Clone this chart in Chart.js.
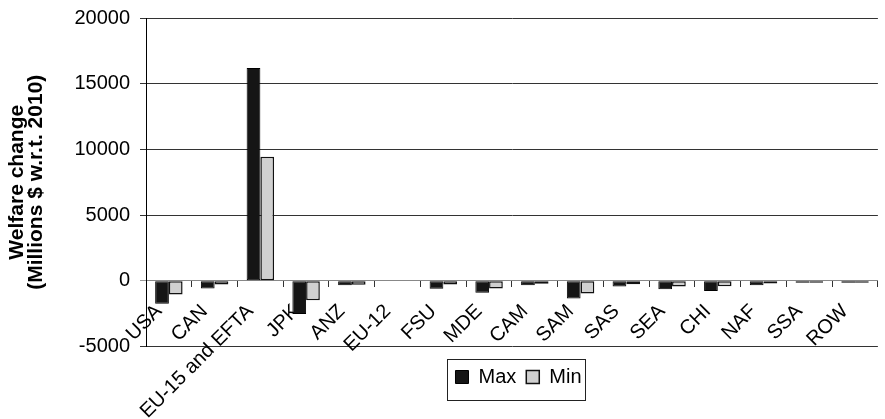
<!DOCTYPE html>
<html>
<head>
<meta charset="utf-8">
<script src="https://cdn.jsdelivr.net/npm/chart.js@4"></script>
<style>
  html, body { margin: 0; padding: 0; background: #fff; }
  #wrap { width: 885px; height: 419px; position: relative; }
</style>
</head>
<body>
<div id="wrap"><canvas id="welfareChart"></canvas></div>
<script>
// Regions and welfare changes (millions $ w.r.t. 2010)
const regions = ['USA', 'CAN', 'EU-15 and EFTA', 'JPK', 'ANZ', 'EU-12', 'FSU', 'MDE',
                 'CAM', 'SAM', 'SAS', 'SEA', 'CHI', 'NAF', 'SSA', 'ROW'];
const maxValues = [-1750, -590, 16200, -2530, -330, 0, -610, -900, -330, -1350, -440, -640, -770, -330, -150, -150];
const minValues = [-1050, -280, 9450, -1480, -300, 0, -280, -590, -230, -970, -260, -440, -410, -200, -150, -150];
const yTicks = [-5000, 0, 5000, 10000, 15000, 20000];

const fontFamily = "'Liberation Sans', Arial, sans-serif";

// legend etrafına ince çerçeve
const legendFrame = {
    id: 'legendFrame',
    afterLayout(chart) {
        // legend'i çizim alanının ortasına ve biraz aşağı kaydır
        const shiftX = 76;
        const shiftY = 10.5;
        chart.legend.left += shiftX;
        chart.legend.right += shiftX;
        chart.legend.top += shiftY;
        chart.legend.bottom += shiftY;
    },
    afterDraw(chart) {
        const boxes = chart.legend.legendHitBoxes;
        if (!boxes || !boxes.length) return;
        const left = Math.min(...boxes.map(b => b.left)) - 8;
        const right = Math.max(...boxes.map(b => b.left + b.width)) + 4;
        const midY = boxes[0].top + boxes[0].height / 2;
        const top = midY - 18;
        const bottom = midY + 23;
        const ctx = chart.ctx;
        ctx.save();
        ctx.strokeStyle = '#222';
        ctx.lineWidth = 1;
        ctx.strokeRect(Math.round(left) + 0.5, Math.round(top) + 0.5, Math.round(right - left), Math.round(bottom - top));
        ctx.restore();
    }
};

const ctx = document.getElementById('welfareChart').getContext('2d');
const welfareChart = new Chart(ctx, {
    type: 'bar',
    data: {
        labels: regions,
        datasets: [
            {
                label: 'Max',
                data: maxValues,
                backgroundColor: '#151515',
                borderColor: '#000',
                borderWidth: 1,
                borderSkipped: false,
                categoryPercentage: 0.6,
                barPercentage: 1
            },
            {
                label: 'Min',
                data: minValues,
                backgroundColor: '#d0d0d0',
                borderColor: '#111',
                borderWidth: 1.5,
                borderSkipped: false,
                categoryPercentage: 0.6,
                barPercentage: 1
            }
        ]
    },
    options: {
        responsive: true,
        maintainAspectRatio: false,
        animation: false,
        layout: { padding: { top: 18, right: 0, bottom: 32.5, left: 0 } },
        plugins: {
            legend: {
                position: 'bottom',
                labels: {
                    font: { family: fontFamily, size: 20 },
                    color: '#000',
                    boxWidth: 13,
                    boxHeight: 13,
                    padding: 10
                }
            },
            tooltip: { enabled: false }
        },
        scales: {
            x: {
                position: { y: 0 },
                offset: true,
                grid: { offset: true, drawOnChartArea: false, drawTicks: true, tickLength: 6, color: '#333' },
                border: { display: true, color: '#888', width: 1 },
                ticks: {
                    font: { family: fontFamily, size: 20 },
                    color: '#000',
                    minRotation: 45,
                    maxRotation: 45,
                    autoSkip: false,
                    padding: 13,
                    labelOffset: -10
                },
                afterFit: (scale) => { scale.height = 0; }
            },
            y: {
                min: -5000,
                max: 20000,
                afterBuildTicks: (scale) => { scale.ticks = yTicks.map(v => ({ value: v })); },
                ticks: {
                    font: { family: fontFamily, size: 20, lineHeight: 0.6 },
                    color: '#000',
                    padding: 10,
                    callback: (value) => String(value)
                },
                grid: {
                    color: (c) => (c.tick && c.tick.value === 0 ? '#999' : '#333'),
                    tickLength: 6
                },
                border: { display: true, color: '#000', width: 1 },
                title: {
                    display: true,
                    text: ['Welfare change', '(Millions $ w.r.t. 2010)'],
                    font: { family: fontFamily, size: 21, weight: 'bold', lineHeight: 0.9 },
                    color: '#000',
                    padding: { top: 8, bottom: 0 }
                },
                afterFit: (scale) => { scale.width = 146; }
            }
        }
    },
    plugins: [legendFrame]
});
</script>
</body>
</html>
